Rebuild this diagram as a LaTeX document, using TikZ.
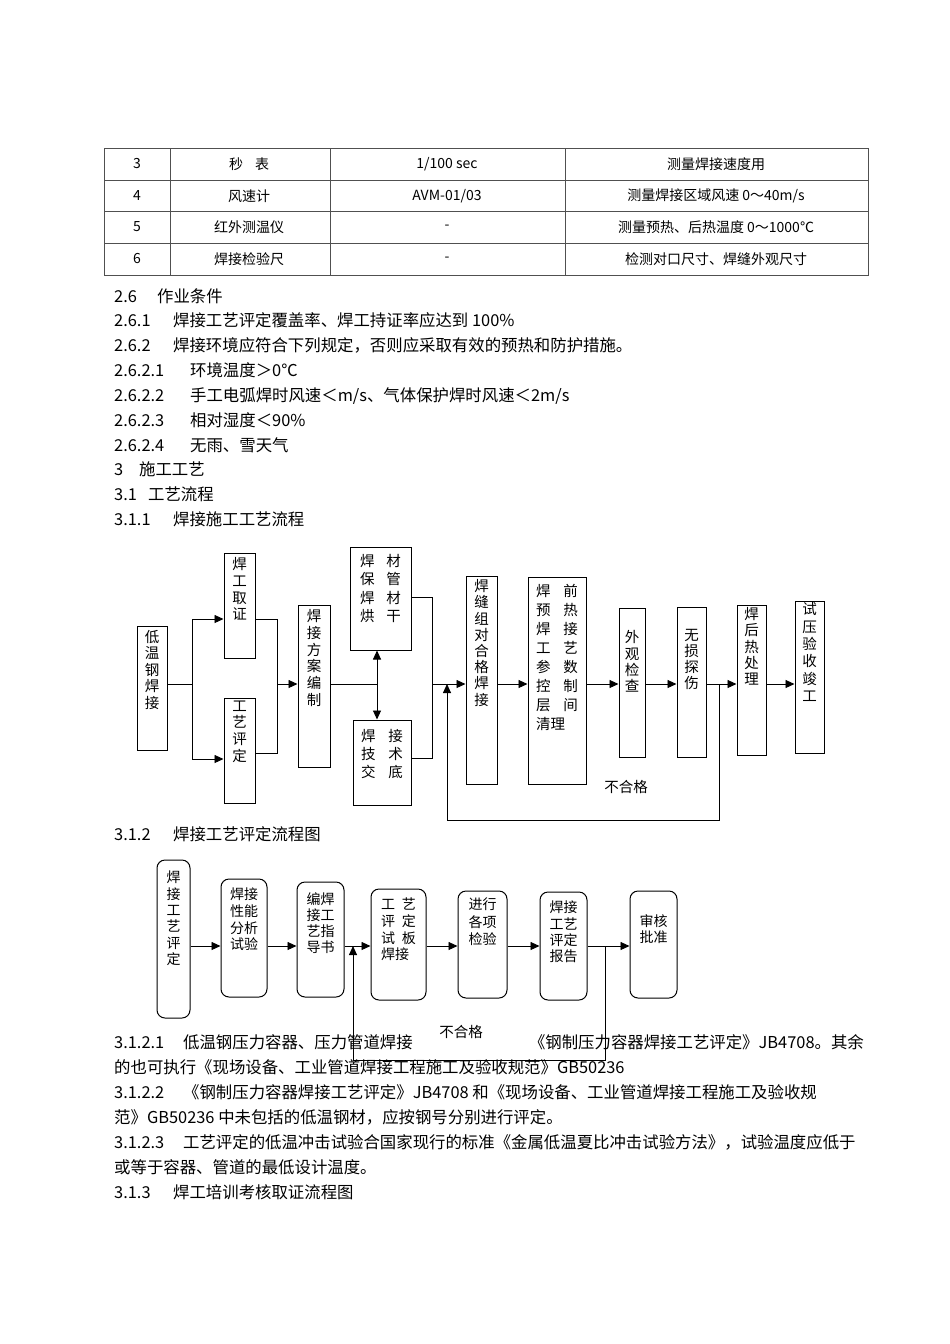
\documentclass[tikz,border=0pt]{standalone}
\usepackage{fontspec}
\setmainfont{Noto Sans CJK SC}
\usepackage{tikz}
\usetikzlibrary{positioning,arrows.meta,calc}
\definecolor{rulegray}{HTML}{505050}
% box text: width, height, top gap, line step, lines
\newcommand{\boxtext}[5]{\parbox[c][#2][t]{#1}{\centering\vspace*{#3}\baselineskip=#4\relax #5\par}}
% numbered heading: number field width, number
\newcommand{\hd}[2]{\makebox[#1][l]{#2}}

\begin{document}
\begin{tikzpicture}[
  x=1pt, y=-1pt,
  cell/.style={inner sep=0pt, font=\fontsize{14}{17}\selectfont},
  body/.style={anchor=base west, inner sep=0pt, font=\fontsize{16.4}{20}\selectfont},
  flowbox/.style={draw, line width=1pt, inner sep=0pt, font=\fontsize{14.5}{17}\selectfont},
  roundbox/.style={flowbox, rounded corners=8pt, font=\fontsize{14}{17}\selectfont},
  link/.style={line width=0.9pt},
  flow/.style={link, -{Triangle[length=9pt,width=8pt]}},
  twoway/.style={link, {Triangle[length=9pt,width=8pt]}-{Triangle[length=9pt,width=8pt]}},
  lbl/.style={inner sep=1pt, font=\fontsize{14.5}{17}\selectfont},
]
\useasboundingbox[fill=white] (0,0) rectangle (950,1344);

% Instrument table, rows 3 to 6
\draw[rulegray, line width=0.8pt] (104,148) rectangle (868,275);
\draw[rulegray, line width=0.8pt] (104,180) -- (868,180);
\draw[rulegray, line width=0.8pt] (104,211) -- (868,211);
\draw[rulegray, line width=0.8pt] (104,243) -- (868,243);
\draw[rulegray, line width=0.8pt] (170,148) -- (170,275);
\draw[rulegray, line width=0.8pt] (330,148) -- (330,275);
\draw[rulegray, line width=0.8pt] (565,148) -- (565,275);

\node[cell] (r3a) at (137,164) {3};
\node[cell] (r3b) at (249,164) {秒\hspace{12pt}表};
\node[cell] (r3c) at (447,164) {1/100 sec};
\node[cell] (r3d) at (716,164) {测量焊接速度用};
\node[cell] (r4a) at (137,196) {4};
\node[cell] (r4b) at (249,196) {风速计};
\node[cell] (r4c) at (447,196) {AVM-01/03};
\node[cell] (r4d) at (716,196) {测量焊接区域风速 0～40m/s};
\node[cell] (r5a) at (137,227) {5};
\node[cell] (r5b) at (249,227) {红外测温仪};
\node[cell] (r5c) at (447,227) {-};
\node[cell] (r5d) at (716,227) {测量预热、后热温度 0～1000℃};
\node[cell] (r6a) at (137,259) {6};
\node[cell] (r6b) at (249,259) {焊接检验尺};
\node[cell] (r6c) at (447,259) {-};
\node[cell] (r6d) at (716,259) {检测对口尺寸、焊缝外观尺寸};

% Text lines above the flow charts
\node[body] (s26) at (114,302) {\hd{43pt}{2.6}作业条件};
\node[body] (s261) at (114,326) {\hd{59pt}{2.6.1}焊接工艺评定覆盖率、焊工持证率应达到 100\%};
\node[body] (s262) at (114,351) {\hd{59pt}{2.6.2}焊接环境应符合下列规定，否则应采取有效的预热和防护措施。};
\node[body] (s2621) at (114,376) {\hd{76pt}{2.6.2.1}环境温度＞0℃};
\node[body] (s2622) at (114,401) {\hd{76pt}{2.6.2.2}手工电弧焊时风速＜m/s、气体保护焊时风速＜2m/s};
\node[body] (s2623) at (114,426) {\hd{76pt}{2.6.2.3}相对湿度＜90\%};
\node[body] (s2624) at (114,451) {\hd{76pt}{2.6.2.4}无雨、雪天气};
\node[body] (s3) at (114,475) {\hd{25pt}{3}施工工艺};
\node[body] (s31) at (114,500) {\hd{34pt}{3.1}工艺流程};
\node[body] (s311) at (114,525) {\hd{59pt}{3.1.1}焊接施工工艺流程};

% Flow chart 1: welding construction process
\node[flowbox] (lowtemp) at (152,688) {\boxtext{30pt}{124pt}{4pt}{16.6pt}{低\\温\\钢\\焊\\接}};
\node[flowbox] (cert) at (239.5,605.5) {\boxtext{31pt}{105pt}{4.5pt}{16.7pt}{焊\\工\\取\\证}};
\node[flowbox] (proc) at (239.5,750.5) {\boxtext{31pt}{105pt}{2.5pt}{16.7pt}{工\\艺\\评\\定}};
\node[flowbox] (plan) at (314,686) {\boxtext{32pt}{162pt}{4.5pt}{16.7pt}{焊\\接\\方\\案\\编\\制}};
\node[flowbox] (material) at (380.5,598.5) {\boxtext{61pt}{103pt}{7.5pt}{18.3pt}{焊\hspace{12pt}材\\保\hspace{12pt}管\\焊\hspace{12pt}材\\烘\hspace{12pt}干}};
\node[flowbox] (brief) at (382,762.5) {\boxtext{58pt}{85pt}{9.5pt}{18pt}{焊\hspace{13pt}接\\技\hspace{13pt}术\\交\hspace{13pt}底}};
\node[flowbox] (fitup) at (481.5,680) {\boxtext{31pt}{208pt}{3.5pt}{16.2pt}{焊\\缝\\组\\对\\合\\格\\焊\\接}};
\node[flowbox] (preheat) at (557,680.5) {\boxtext{58pt}{207pt}{7.5pt}{19pt}{焊\hspace{13pt}前\\预\hspace{13pt}热\\焊\hspace{13pt}接\\工\hspace{13pt}艺\\参\hspace{13pt}数\\控\hspace{13pt}制\\层\hspace{13pt}间\\\makebox[42pt][l]{清理}}};
\node[flowbox] (visual) at (632,682.5) {\boxtext{26pt}{149pt}{22.5pt}{16.3pt}{外\\观\\检\\查}};
\node[flowbox] (ndt) at (691.5,682) {\boxtext{29pt}{150pt}{22.5pt}{16pt}{无\\损\\探\\伤}};
\node[flowbox] (pwht) at (751.5,680) {\boxtext{29pt}{150pt}{2.5pt}{16.25pt}{焊\\后\\热\\处\\理}};
\node[flowbox] (test) at (809.5,677) {\boxtext{29pt}{152pt}{1.5pt}{17.4pt}{试\\压\\验\\收\\竣\\工}};

\coordinate (main) at (0,684);
\coordinate (fork) at (192,684);
\coordinate (join1) at (277,684);
\coordinate (hub) at (377,684);
\coordinate (join2) at (432,684);
\coordinate (back) at (719,684);
\coordinate (retn) at (447,684);
\coordinate (upA) at (0,619);
\coordinate (upB) at (0,759);
\coordinate (upC) at (0,753);
\coordinate (upD) at (0,597);
\coordinate (upE) at (0,758);
\coordinate (loopy) at (0,820);

\draw[link] (lowtemp.east |- fork) -- (fork);
\draw[flow] (fork) |- (cert.west |- upA);
\draw[flow] (fork) |- (proc.west |- upB);
\draw[link] (cert.east |- upA) -| (join1);
\draw[link] (proc.east |- upC) -| (join1);
\draw[flow] (join1) -- (plan.west |- main);
\draw[link] (plan.east |- main) -- (hub);
\draw[twoway] (material.south -| hub) -- (brief.north -| hub);
\draw[link] (material.east |- upD) -| (join2);
\draw[link] (brief.east |- upE) -| (join2);
\draw[flow] (join2) -- (fitup.west |- main);
\draw[flow] (fitup.east |- main) -- (preheat.west |- main);
\draw[flow] (preheat.east |- main) -- (visual.west |- main);
\draw[flow] (visual.east |- main) -- (ndt.west |- main);
\draw[flow] (ndt.east |- main) -- (pwht.west |- main);
\draw[flow] (pwht.east |- main) -- (test.west |- main);
% rejected joints go back to fit-up
\draw[flow] (back) -- (back |- loopy) -- (retn |- loopy) -- (retn);
\node[lbl] (fail1) at (626,787) {不合格};

% Flow chart 2: procedure qualification
\node[body] (s312) at (114,840) {\hd{59pt}{3.1.2}焊接工艺评定流程图};

\node[roundbox] (pqr) at (173.5,939) {\boxtext{33pt}{158pt}{11pt}{16.4pt}{焊\\接\\工\\艺\\评\\定}};
\node[roundbox] (weldtest) at (244,938) {\boxtext{46pt}{118pt}{9pt}{16.7pt}{焊接\\性能\\分析\\试验}};
\node[roundbox] (wps) at (320.5,939.5) {\boxtext{47pt}{115pt}{11pt}{16pt}{编焊\\接工\\艺指\\导书}};
\node[roundbox] (coupon) at (398.5,944.5) {\boxtext{55pt}{111pt}{9pt}{16.7pt}{工\hspace{7pt}艺\\评\hspace{7pt}定\\试\hspace{7pt}板\\\makebox[35pt][l]{焊接}}};
\node[roundbox] (inspect) at (482.5,944.5) {\boxtext{49pt}{107pt}{7pt}{17.5pt}{进行\\各项\\检验}};
\node[roundbox] (report) at (563.5,946) {\boxtext{47pt}{108pt}{9pt}{16.3pt}{焊接\\工艺\\评定\\报告}};
\node[roundbox] (approve) at (653.5,944.5) {\boxtext{47pt}{107pt}{24pt}{16pt}{审核\\批准}};

\coordinate (main2) at (0,946);
\coordinate (back2) at (605,946);
\coordinate (retn2) at (353,946);
\coordinate (loopy2) at (0,1060);

\draw[flow] (pqr.east |- main2) -- (weldtest.west |- main2);
\draw[flow] (weldtest.east |- main2) -- (wps.west |- main2);
\draw[flow] (wps.east |- main2) -- (coupon.west |- main2);
\draw[flow] (coupon.east |- main2) -- (inspect.west |- main2);
\draw[flow] (inspect.east |- main2) -- (report.west |- main2);
\draw[flow] (report.east |- main2) -- (approve.west |- main2);
\draw[flow] (back2) -- (back2 |- loopy2) -- (retn2 |- loopy2) -- (retn2);
\node[lbl] (fail2) at (461,1032) {不合格};

% Notes below chart 2
\node[body] (p1a) at (114,1048) {\hd{69pt}{3.1.2.1}低温钢压力容器、压力管道焊接};
\node[body, anchor=base east] (p1b) at (864,1048) {《钢制压力容器焊接工艺评定》JB4708。其余};
\node[body] (p1c) at (114,1073) {的也可执行《现场设备、工业管道焊接工程施工及验收规范》GB50236};
\node[body] (p2a) at (114,1098) {\hd{69pt}{3.1.2.2}《钢制压力容器焊接工艺评定》JB4708 和《现场设备、工业管道焊接工程施工及验收规};
\node[body] (p2b) at (114,1123) {范》GB50236 中未包括的低温钢材，应按钢号分别进行评定。};
\node[body] (p3a) at (114,1148) {\hd{69pt}{3.1.2.3}工艺评定的低温冲击试验合国家现行的标准《金属低温夏比冲击试验方法》，试验温度应低于};
\node[body] (p3b) at (114,1173) {或等于容器、管道的最低设计温度。};
\node[body] (s313) at (114,1198) {\hd{59pt}{3.1.3}焊工培训考核取证流程图};
\end{tikzpicture}
\end{document}
